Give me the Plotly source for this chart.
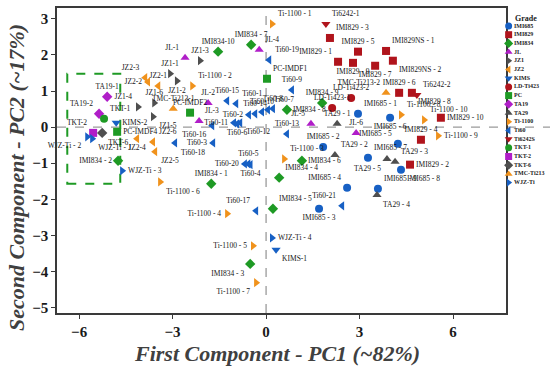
import plotly.graph_objects as go

# ---------------- data ----------------
imi685_lab = ["IMI685 - 1", "IMI685 - 2", "IMI685 - 3", "IMI685 - 4", "IMI685 - 5",
              "IMI685 - 6", "IMI685 - 7", "IMI685 - 8", "IMI685 - 9"]
imi685_x = [2.95, 1.83, 1.70, 2.60, 4.23, 3.98, 3.27, 4.33, 3.59]
imi685_y = [0.37, -0.55, -2.26, -1.68, -0.46, 0.26, -0.85, -1.18, -1.71]

imi829_lab = ["IMI829 - 1", "IMI829 - 2", "IMI829 - 3", "IMI829 - 4", "IMI829 - 5",
              "IMI829 - 6", "IMI829 - 7", "IMI829 - 8", "IMI829 - 9", "IMI829 - 10",
              "IMI829NS - 1", "IMI829NS - 2"]
imi829_x = [2.31, 4.62, 2.05, 4.97, 2.95, 4.27, 3.50, 4.68, 2.79, 5.61, 3.85, 4.07]
imi829_y = [1.81, -1.04, 2.47, -0.35, 2.09, 0.95, 1.70, 0.95, 1.78, 0.26, 2.11, 1.84]

imi834_lab = ["IMI834 - 1", "IMI834 - 2", "IMI834 - 3", "IMI834 - 4", "IMI834 - 5",
              "IMI834 - 6", "IMI834 - 7", "IMI834 - 8", "IMI834 - 9", "IMI834-10"]
imi834_x = [-1.76, -4.75, -0.51, 0.42, 0.22, 1.15, -0.48, 0.67, 1.80, -1.54]
imi834_y = [-1.57, -0.93, -3.79, -1.40, -2.26, -0.93, 2.28, 0.48, 0.67, 2.09]

jl_lab = ["JL-1", "JL-2", "JL-3", "JL-4", "JL-5", "JL-6"]
jl_x = [-2.60, -1.86, -2.15, -0.22, 1.44, 2.89]
jl_y = [1.92, 0.67, 0.17, 2.14, 0.09, -0.16]

jz1_lab = ["JZ1-1", "JZ1-2", "JZ1-3", "JZ1-4", "JZ1-5", "JZ1-6"]
jz1_x = [-3.08, -2.86, -2.12, -4.11, -3.63, -3.59]
jz1_y = [1.48, 1.28, 1.84, 0.56, 0.29, 0.67]

jz2_lab = ["JZ2-1", "JZ2-2", "JZ2-3", "JZ2-4", "JZ2-5", "JZ2-6"]
jz2_x = [-3.46, -3.79, -3.88, -4.14, -3.56, -3.63]
jz2_y = [1.14, 1.25, 1.37, -0.32, -0.68, -0.41]

kims_lab = ["KIMS-1", "KIMS-2"]
kims_x = [0.32, -4.81]
kims_y = [-3.40, 0.12]

ldti_lab = ["LD-Ti423-1", "LD-Ti423-2"]
ldti_x = [2.12, 2.73]
ldti_y = [0.53, 0.81]

pc_lab = ["PC-IMDF1", "PC-IMDF2", "PC-IMDF4"]
pc_x = [0.03, -2.44, -4.78]
pc_y = [1.34, 0.40, -0.13]

ta19_lab = ["TA19-1", "TA19-2"]
ta19_x = [-5.10, -5.36]
ta19_y = [0.84, 0.37]

ta29_lab = ["TA29 - 1", "TA29 - 2", "TA29 - 3", "TA29 - 4", "TA29 - 5"]
ta29_x = [2.28, 2.21, 4.14, 3.56, 3.88]
ta29_y = [0.09, -0.77, -0.96, -1.88, -0.88]

ti1100_lab = ["Ti-1100 - 1", "Ti-1100 - 2", "Ti-1100 - 3", "Ti-1100 - 4", "Ti-1100 - 5",
              "Ti-1100 - 6", "Ti-1100 - 7", "Ti-1100 - 8", "Ti-1100 - 9", "Ti-1100 - 10"]
ti1100_x = [0.19, -2.37, 0.58, -1.25, -0.42, -3.40, -0.32, 4.33, 5.52, 5.07]
ti1100_y = [2.86, 1.14, -0.88, -2.40, -3.29, -1.52, -4.31, 0.34, -0.24, 0.20]

ti60_lab = ["Ti60-%d" % i for i in range(1, 22)]
ti60_x = [-0.96, -0.55, -1.70, -0.50, -0.57, -0.93, 0.06, 0.22, 0.83, -0.13, -1.03,
          -0.83, 0.67, -0.35, -1.25, -1.73, -0.32, -2.92, 0.10, -0.68, 2.44]
ti60_y = [0.65, 0.34, -0.44, -1.04, -1.02, 0.09, 0.48, 0.51, 1.03, 0.42, 0.12,
          0.12, -0.19, 0.37, 0.73, 0.04, -2.32, -0.44, 1.86, -1.02, -2.18]

ti6242_lab = ["Ti6242-1", "Ti6242-2"]
ti6242_x = [1.92, 4.84]
ti6242_y = [2.86, 0.89]

tkt1_lab = ["TKT-1"]
tkt1_x = [-5.20]
tkt1_y = [0.23]

tkt2_lab = ["TKT-2"]
tkt2_x = [-5.55]
tkt2_y = [-0.16]

tkt6_lab = ["TKT-6"]
tkt6_x = [-5.26]
tkt6_y = [-0.16]

tmc_lab = ["TMC-Ti213-1", "TMC-Ti213-2"]
tmc_x = [-2.98, 3.85]
tmc_y = [0.51, 0.95]

wjz_lab = ["WJZ-Ti - 1", "WJZ-Ti - 2", "WJZ-Ti - 3", "WJZ-Ti - 4"]
wjz_x = [-5.58, -5.74, -4.62, 0.19]
wjz_y = [-0.32, -0.27, -1.21, -3.07]

x_ticks = [-6, -3, 0, 3, 6]
y_ticks = [-5, -4, -3, -2, -1, 0, 1, 2, 3]
highlight_box = [-6.38, -4.68, -1.57, 1.48]  # x0, x1, y0, y1

# ---------------- styles ----------------
BLUE, RED, GREEN, PURPLE, GRAY, ORANGE = "#1760C4", "#B0141C", "#1E9A24", "#B01EC8", "#4F4F4F", "#F0921C"

groups = [
    ("IMI685", imi685_x, imi685_y, imi685_lab, BLUE, "circle",
     ["top right", "top center", "bottom center", "top left", "top left", "bottom center",
      "top right", "bottom right", "top right"]),
    ("IMI829", imi829_x, imi829_y, imi829_lab, RED, "square",
     ["top left", "middle right", "top right", "top center", "top center", "top center",
      "bottom center", "bottom right", "bottom center", "middle right", "top right", "bottom right"]),
    ("IMI834", imi834_x, imi834_y, imi834_lab, GREEN, "diamond",
     ["top center", "middle left", "bottom left", "top right", "top right", "middle right",
      "top center", "middle right", "top center", "top center"]),
    ("JL", jl_x, jl_y, jl_lab, PURPLE, "triangle-up",
     ["top left", "top center", "top right", "top right", "top left", "top center"]),
    ("JZ1", jz1_x, jz1_y, jz1_lab, GRAY, "triangle-right",
     ["top center", "bottom center", "top center", "top left", "bottom right", "top center"]),
    ("JZ2", jz2_x, jz2_y, jz2_lab, ORANGE, "triangle-left",
     ["top center", "middle left", "top left", "bottom center", "bottom right", "top right"]),
    ("KIMS", kims_x, kims_y, kims_lab, BLUE, "triangle-down",
     ["bottom right", "middle right"]),
    ("LD-Ti423", ldti_x, ldti_y, ldti_lab, RED, "circle",
     ["top center", "top center"]),
    ("PC", pc_x, pc_y, pc_lab, GREEN, "square",
     ["top right", "top center", "middle right"]),
    ("TA19", ta19_x, ta19_y, ta19_lab, PURPLE, "diamond",
     ["top center", "top left"]),
    ("TA29", ta29_x, ta29_y, ta29_lab, GRAY, "triangle-up",
     ["top center", "top right", "top right", "bottom right", "bottom left"]),
    ("Ti-1100", ti1100_x, ti1100_y, ti1100_lab, ORANGE, "triangle-right",
     ["top right", "top right", "top right", "middle left", "middle left", "bottom right",
      "bottom left", "top right", "middle right", "top right"]),
    ("Ti60", ti60_x, ti60_y, ti60_lab, BLUE, "triangle-left",
     ["top right", "middle left", "middle left", "bottom center", "top center", "bottom center",
      "top right", "top center", "top center", "top center", "middle left", "bottom right",
      "top center", "top center", "top center", "bottom left", "top left", "bottom right",
      "top right", "middle left", "top left"]),
    ("Ti6242S", ti6242_x, ti6242_y, ti6242_lab, RED, "triangle-down",
     ["top right", "top right"]),
    ("TKT-1", tkt1_x, tkt1_y, tkt1_lab, GREEN, "circle", ["top right"]),
    ("TKT-2", tkt2_x, tkt2_y, tkt2_lab, PURPLE, "square", ["top left"]),
    ("TKT-6", tkt6_x, tkt6_y, tkt6_lab, GRAY, "diamond", ["bottom right"]),
    ("TMC-Ti213", tmc_x, tmc_y, tmc_lab, ORANGE, "triangle-up", ["top center", "top left"]),
    ("WJZ-Ti", wjz_x, wjz_y, wjz_lab, BLUE, "triangle-right",
     ["bottom right", "bottom left", "middle right", "middle right"]),
]

SERIF = "Liberation Serif"
fig = go.Figure()

for name, xs, ys, labs, col, sym, tpos in groups:
    fig.add_trace(go.Scatter(
        x=xs, y=ys, mode="markers+text", text=labs, textposition=tpos,
        textfont=dict(family=SERIF, size=7.5, color="#151515"),
        marker=dict(color=col, symbol=sym, size=8, line=dict(width=0)),
        name=name, showlegend=False, cliponaxis=False,
        xaxis="x", yaxis="y"))

# manual compact legend on a secondary axis
for i, (name, xs, ys, labs, col, sym, tpos) in enumerate(groups):
    fig.add_trace(go.Scatter(
        x=[0.06], y=[-i], mode="markers+text", text=[name], textposition="middle right",
        textfont=dict(family=SERIF, size=6, color="#222", weight="bold"),
        marker=dict(color=col, symbol=sym, size=7, line=dict(width=0)),
        showlegend=False, cliponaxis=False, hoverinfo="skip",
        xaxis="x2", yaxis="y2"))

x0, x1, y0, y1 = highlight_box
shapes = [
    dict(type="line", xref="x", yref="paper", x0=0, x1=0, y0=0, y1=1,
         line=dict(color="#9a9a9a", width=1.3, dash="dash"), layer="below"),
    dict(type="line", xref="paper", yref="y", x0=0, x1=1, y0=0, y1=0,
         line=dict(color="#9a9a9a", width=1.3, dash="dash"), layer="below"),
    dict(type="rect", xref="x", yref="y", x0=x0, x1=x1, y0=y0, y1=y1,
         line=dict(color=GREEN, width=2, dash="dash"), fillcolor="rgba(0,0,0,0)", layer="below"),
]

dom = (506 - 57) / 493
axis_common = dict(showgrid=False, zeroline=False, showline=True, linecolor="#3a3a3a",
                   linewidth=1.6, mirror=True, ticks="outside", ticklen=4, tickwidth=1.2,
                   tickcolor="#3a3a3a",
                   tickfont=dict(family=SERIF, size=15, color="#1a1a1a", weight="bold"))

fig.update_layout(
    width=550, height=372,
    margin=dict(l=57, r=0, t=8, b=59),
    paper_bgcolor="white", plot_bgcolor="white",
    xaxis=dict(domain=[0, dom], range=[-6.71, 7.70], tickvals=x_ticks, **axis_common),
    yaxis=dict(domain=[0, 1], range=[-5.15, 3.30], tickvals=y_ticks, **axis_common),
    xaxis2=dict(domain=[dom, 1], range=[0, 1], visible=False, anchor="y2"),
    yaxis2=dict(domain=[0, 1], range=[-32.99, 2.07], visible=False, anchor="x2"),
    shapes=shapes,
    showlegend=False,
    annotations=[
        dict(text="First Component - PC1 (~82%)", xref="paper", yref="paper",
             x=0.446, y=-0.134, xanchor="center", yanchor="middle", showarrow=False,
             font=dict(family=SERIF, size=22, color="#404040", weight="bold", style="italic")),
        dict(text="Second Component - PC2 (~17%)", xref="paper", yref="paper",
             x=-0.081, y=0.443, xanchor="center", yanchor="middle", showarrow=False,
             textangle=-90,
             font=dict(family=SERIF, size=22, color="#404040", weight="bold", style="italic")),
        dict(text="Grade", xref="paper", yref="paper", x=0.952, y=0.966,
             xanchor="center", yanchor="middle", showarrow=False,
             font=dict(family=SERIF, size=8, color="#222", weight="bold")),
    ],
)

fig.write_html("out.html", config={"displayModeBar": False},
               post_script="document.body.style.margin='0';document.body.style.padding='0';")
